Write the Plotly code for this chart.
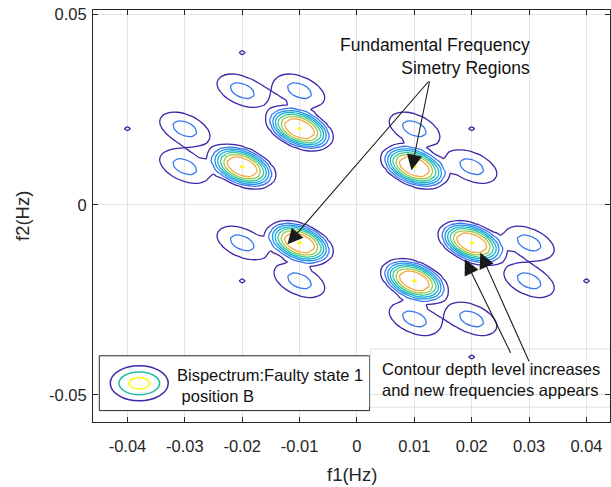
import numpy as np
import plotly.graph_objects as go

# Bifrequency grid (Hz)
step = 0.00125
f = np.arange(-0.06, 0.06 + step / 2, step)

# Dominant bispectral peaks (elongated along f1 = -f2)
main_f1 = [-0.01, -0.02, 0.01, -0.01, 0.02, 0.01]
main_f2 = [0.02, 0.01, 0.01, -0.01, -0.01, -0.02]
main_amp = [8.03, 8.03, 8.03, 8.03, 8.03, 8.03]
main_s_major = 0.0055
main_s_minor = 0.0036

# Secondary lobes next to each dominant peak
lobe_f1 = [-0.02, -0.01, -0.03, -0.03, 0.01, 0.02, 0.03, 0.03, 0.01, 0.02, -0.02, -0.01]
lobe_f2 = [0.03, 0.03, 0.02, 0.01, 0.02, 0.01, -0.01, -0.02, -0.03, -0.03, -0.01, -0.02]
lobe_amp = [2.32] * 12
lobe_s_major = 0.0056
lobe_s_minor = 0.0035

# Weak isolated components
dot_f1 = [-0.02, -0.04, 0.02, 0.04, 0.02, -0.02]
dot_f2 = [0.04, 0.02, 0.02, -0.02, -0.04, -0.02]
dot_amp = [1.33] * 6
dot_s = 0.00126

# Contour levels and their line colours
levels = [1, 2, 3, 4, 5, 6, 7, 8]
level_colors = ["#3e26a8", "#3877f0", "#2394ea", "#12b1d6", "#37c897",
                "#9cc84a", "#f5a93e", "#f9fb15"]

x_ticks = [-0.04, -0.03, -0.02, -0.01, 0, 0.01, 0.02, 0.03, 0.04]
x_ticktext = ["-0.04", "-0.03", "-0.02", "-0.01", "0", "0.01", "0.02", "0.03", "0.04"]
y_ticks = [-0.05, 0, 0.05]
y_ticktext = ["-0.05", "0", "0.05"]

F1, F2 = np.meshgrid(f, f)
Z = np.zeros_like(F1)


def add_peak(c1, c2, amp, sa, sb, p):
    du = F1 - c1
    dv = F2 - c2
    u = (du - dv) / np.sqrt(2)
    v = (du + dv) / np.sqrt(2)
    d2 = (u / sa) ** 2 + (v / sb) ** 2
    return amp * np.exp(-d2 ** (p / 2))


for c1, c2, a in zip(main_f1, main_f2, main_amp):
    Z += add_peak(c1, c2, a, main_s_major, main_s_minor, 3.5)
for c1, c2, a in zip(lobe_f1, lobe_f2, lobe_amp):
    Z += add_peak(c1, c2, a, lobe_s_major, lobe_s_minor, 2.5)
for c1, c2, a in zip(dot_f1, dot_f2, dot_amp):
    Z += add_peak(c1, c2, a, dot_s, dot_s, 2)

fig = go.Figure()
# one trace per level so every isoline gets its own colour
for lev, col in zip(levels, level_colors):
    fig.add_trace(go.Contour(
        x=f, y=f, z=Z,
        contours=dict(start=lev, end=lev, size=1, coloring="none"),
        line=dict(width=1.3, smoothing=0.5, color=col),
        showscale=False, hoverinfo="skip",
    ))

FONT = "Liberation Sans, Arial, Helvetica, sans-serif"
AX = "#262626"

fig.update_layout(
    width=611, height=487,
    margin=dict(l=93, r=1, t=10, b=65),
    paper_bgcolor="white", plot_bgcolor="white",
    showlegend=False,
    font=dict(family=FONT, size=16, color=AX),
    xaxis=dict(range=[-0.046, 0.0441], tickvals=x_ticks, ticktext=x_ticktext,
               ticks="inside", ticklen=5, tickcolor=AX, mirror="ticks",
               showline=True, linecolor=AX, linewidth=1,
               showgrid=True, gridcolor="#e3e3e3", gridwidth=1, zeroline=False,
               ticklabelstandoff=9, tickfont=dict(size=16.5, color=AX)),
    yaxis=dict(range=[-0.0571, 0.0512], tickvals=y_ticks, ticktext=y_ticktext,
               ticks="inside", ticklen=5, tickcolor=AX, mirror="ticks",
               showline=True, linecolor=AX, linewidth=1,
               showgrid=True, gridcolor="#e3e3e3", gridwidth=1, zeroline=False,
               ticklabelstandoff=2, tickfont=dict(size=16.5, color=AX)),
)

ann = []
# axis titles
ann.append(dict(text="f1(Hz)", xref="paper", yref="paper", x=0.5, y=0,
                xanchor="center", yanchor="middle", yshift=-52, showarrow=False,
                font=dict(size=18.5, color=AX)))
ann.append(dict(text="f2(Hz)", xref="paper", yref="paper", x=0, y=0.5,
                xanchor="center", yanchor="middle", xshift=-71, textangle=-90,
                showarrow=False, font=dict(size=18.5, color=AX)))

# callout texts
ann.append(dict(text="Fundamental Frequency<br>Simetry Regions", xref="x", yref="y",
                x=0.0305, y=0.0391, xanchor="right", yanchor="middle", align="right",
                showarrow=False, font=dict(size=17.5, color="#111111")))
ann.append(dict(text="Contour depth level increases<br>and new frequencies appears",
                xref="x", yref="y", x=0.0040, y=-0.0459, xanchor="left",
                yanchor="middle", align="left", showarrow=False,
                font=dict(size=16.5, color="#111111")))

# arrows (tail -> head), in data units
arrows = [
    ((0.0127, 0.0328), (0.0095, 0.0091)),
    ((0.0127, 0.0328), (-0.0121, -0.0104)),
    ((0.0269, -0.0393), (0.0188, -0.0143)),
    ((0.0301, -0.0415), (0.0215, -0.0126)),
]
for (tx, ty), (hx, hy) in arrows:
    ann.append(dict(x=hx, y=hy, ax=tx, ay=ty, xref="x", yref="y", axref="x", ayref="y",
                    text="", showarrow=True, arrowhead=2, arrowsize=2.8,
                    arrowwidth=1.1, arrowcolor="#1a1a1a"))

# legend text
ann.append(dict(text="Bispectrum:Faulty state 1<br>\u00a0position B", xref="x", yref="y",
                x=-0.0317, y=-0.0475, xanchor="left", yanchor="middle", align="left",
                showarrow=False, font=dict(size=16.5, color="#111111")))
fig.update_layout(annotations=ann)

shapes = []
# legend frame
shapes.append(dict(type="rect", xref="x", yref="y", x0=-0.0449, x1=0.0022,
                   y0=-0.0541, y1=-0.0397, line=dict(color=AX, width=1),
                   fillcolor="white", layer="above"))
# legend glyph: nested ellipses
for (hw, hh, col) in [(0.00505, 0.0046, level_colors[0]), (0.00354, 0.0030, "#26bda6"),
                      (0.0018, 0.00152, level_colors[-1])]:
    cx, cy = -0.03794, -0.04693
    shapes.append(dict(type="circle", xref="x", yref="y", x0=cx - hw, x1=cx + hw,
                       y0=cy - hh, y1=cy + hh, line=dict(color=col, width=1.5),
                       layer="above"))
# frame of lower callout
shapes.append(dict(type="rect", xref="x", yref="y", x0=0.0023, x1=0.0445,
                   y0=-0.0532, y1=-0.0379, line=dict(color="#e0e0e0", width=1),
                   fillcolor="rgba(255,255,255,0)", layer="above"))
fig.update_layout(shapes=shapes)

fig.write_html("out.html")
